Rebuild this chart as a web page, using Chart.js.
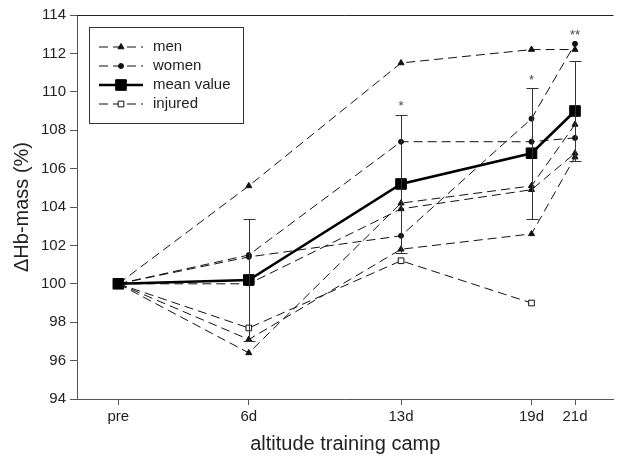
<!DOCTYPE html>
<html>
<head>
<meta charset="utf-8">
<script src="https://cdn.jsdelivr.net/npm/chart.js@4.4.1/dist/chart.umd.min.js"></script>
<style>
  html, body { margin: 0; padding: 0; background: #fff; }
</style>
</head>
<body>
<canvas id="hbChart" width="622" height="456"></canvas>
<script>
// Days of the altitude camp (x axis) and their tick labels
const dayValues = [0, 6, 13, 19, 21];
const dayLabels = ["pre", "6d", "13d", "19d", "21d"];

// Hb-mass in % of pre value, per athlete
const men1 = [100, 105.1, 111.5, 112.2, 112.2];
const men2 = [100, 96.4, 104.2, 105.1, 108.3];
const men3 = [100, 100.0, 103.9, 104.9, 106.8];
const men4 = [100, 97.1, 101.8, 102.6, 106.6];
const women1 = [100, 101.5, 107.4, 107.4, 107.6];
const women2 = [100, 101.4, 102.5, 108.6, 112.5];
const injured = [100, 97.7, 101.2, 99.0];

// Group mean, SD and significance marks
const meanValue = [100, 100.2, 105.2, 106.8, 109.0];
const meanSD = [0, 3.2, 3.6, 3.4, 2.6];
const signif = ["", "", "*", "*", "**"];

// y axis range
const yMin = 94;
const yMax = 114;
const yStep = 2;

const FONT = "'Liberation Sans', Arial, Helvetica, sans-serif";
const DASH = [9, 5];

const toPoints = arr => arr.map((v, i) => ({ x: dayValues[i], y: v }));

function athlete(label, values, style, radius) {
  return {
    label: label,
    data: toPoints(values),
    borderColor: "#111",
    borderWidth: 1,
    borderDash: DASH,
    pointStyle: style,
    pointRadius: radius,
    pointBackgroundColor: "#111",
    pointBorderColor: "#111",
    pointBorderWidth: 1,
    order: 1
  };
}

const datasets = [
  athlete("men", men1, "triangle", 3.5),
  athlete("men", men2, "triangle", 3.5),
  athlete("men", men3, "triangle", 3.5),
  athlete("men", men4, "triangle", 3.5),
  athlete("women", women1, "circle", 2.5),
  athlete("women", women2, "circle", 2.5),
  {
    label: "mean value",
    data: toPoints(meanValue),
    borderColor: "#000",
    borderWidth: 2.5,
    pointStyle: "rect",
    pointRadius: 7.5,
    pointBackgroundColor: "#000",
    pointBorderColor: "#000",
    pointBorderWidth: 1,
    order: 0
  },
  Object.assign(athlete("injured", injured, "rect", 4), {
    pointBackgroundColor: "#fff"
  })
];

// error bars, stars, top frame line and boxed legend
const decor = {
  id: "decor",
  afterDatasetsDraw(chart) {
    const ctx = chart.ctx;
    const xs = chart.scales.x;
    const ys = chart.scales.y;
    const area = chart.chartArea;

    ctx.save();
    ctx.strokeStyle = "#222";
    ctx.lineWidth = 1;
    ctx.beginPath();
    ctx.moveTo(area.left, area.top + 0.5);
    ctx.lineTo(area.right, area.top + 0.5);
    ctx.stroke();

    // SD bars on the mean
    ctx.strokeStyle = "#333";
    meanValue.forEach((m, i) => {
      if (!meanSD[i]) return;
      const x = Math.round(xs.getPixelForValue(dayValues[i])) + 0.5;
      const top = Math.round(ys.getPixelForValue(m + meanSD[i])) + 0.5;
      const bot = Math.round(ys.getPixelForValue(m - meanSD[i])) + 0.5;
      ctx.beginPath();
      ctx.moveTo(x, top); ctx.lineTo(x, bot);
      ctx.moveTo(x - 6, top); ctx.lineTo(x + 6, top);
      ctx.moveTo(x - 6, bot); ctx.lineTo(x + 6, bot);
      ctx.stroke();
    });

    // significance stars above the SD bar, pushed up past marks sitting close above it
    ctx.fillStyle = "#444";
    ctx.font = "13px " + FONT;
    ctx.textAlign = "center";
    ctx.textBaseline = "middle";
    signif.forEach((s, i) => {
      if (!s) return;
      let hi = meanValue[i] + meanSD[i];
      const above = chart.data.datasets
        .map(ds => ds.data[i] ? ds.data[i].y : null)
        .filter(v => v !== null && v > hi)
        .sort((a, b) => a - b);
      above.forEach(v => {
        if (ys.getPixelForValue(hi) - ys.getPixelForValue(v) < 20) hi = v;
      });
      const x = xs.getPixelForValue(dayValues[i]);
      ctx.fillText(s, x, ys.getPixelForValue(hi) - 8);
    });

    // legend
    const lx = area.left + 12;
    const ly = area.top + 12;
    ctx.strokeStyle = "#333";
    ctx.strokeRect(lx + 0.5, ly + 0.5, 154, 96);
    const seen = [];
    chart.data.datasets.forEach(ds => {
      if (seen.find(d => d.label === ds.label)) return;
      seen.push(ds);
    });
    seen.forEach((ds, k) => {
      const y = ly + 20 + k * 19;
      ctx.save();
      ctx.strokeStyle = ds.borderColor;
      ctx.lineWidth = ds.borderWidth;
      ctx.setLineDash(ds.borderDash || []);
      ctx.beginPath();
      ctx.moveTo(lx + 10, y);
      ctx.lineTo(lx + 54, y);
      ctx.stroke();
      ctx.setLineDash([]);
      ctx.fillStyle = ds.pointBackgroundColor;
      ctx.strokeStyle = ds.pointBorderColor;
      ctx.lineWidth = ds.pointBorderWidth;
      Chart.helpers.drawPoint(ctx, {
        pointStyle: ds.pointStyle,
        rotation: 0,
        radius: ds.pointRadius,
        borderWidth: ds.pointBorderWidth
      }, lx + 32, y);
      ctx.restore();
      ctx.fillStyle = "#222";
      ctx.font = "15px " + FONT;
      ctx.textAlign = "left";
      ctx.textBaseline = "middle";
      ctx.fillText(ds.label, lx + 64, y);
    });
    ctx.restore();
  }
};

new Chart(document.getElementById("hbChart"), {
  type: "line",
  data: { datasets: datasets },
  plugins: [decor],
  options: {
    responsive: false,
    animation: false,
    layout: { padding: { top: 15, right: 0, bottom: 0, left: 0 } },
    plugins: {
      legend: { display: false },
      tooltip: { enabled: false }
    },
    scales: {
      x: {
        type: "linear",
        min: -1.9,
        max: 22.77,
        afterBuildTicks: s => { s.ticks = dayValues.map(v => ({ value: v })); },
        afterFit: s => { s.height = 57; },
        ticks: {
          callback: v => dayLabels[dayValues.indexOf(v)],
          autoSkip: false,
          maxRotation: 0,
          padding: 3,
          color: "#222",
          font: { family: FONT, size: 15 }
        },
        grid: { display: true, drawOnChartArea: false, tickLength: 6, color: "#555" },
        border: { color: "#555" },
        title: {
          display: true,
          text: "altitude training camp",
          color: "#222",
          font: { family: FONT, size: 20 },
          padding: 0
        }
      },
      y: {
        min: yMin,
        max: yMax,
        afterFit: s => { s.width = 77; },
        ticks: {
          stepSize: yStep,
          padding: 4,
          color: "#222",
          font: { family: FONT, size: 15 }
        },
        grid: { display: true, drawOnChartArea: false, tickLength: 7, color: "#555" },
        border: { color: "#555" },
        title: {
          display: true,
          text: "ΔHb-mass (%)",
          color: "#222",
          font: { family: FONT, size: 20 },
          padding: { top: 10, bottom: 0 }
        }
      }
    }
  }
});
</script>
</body>
</html>
